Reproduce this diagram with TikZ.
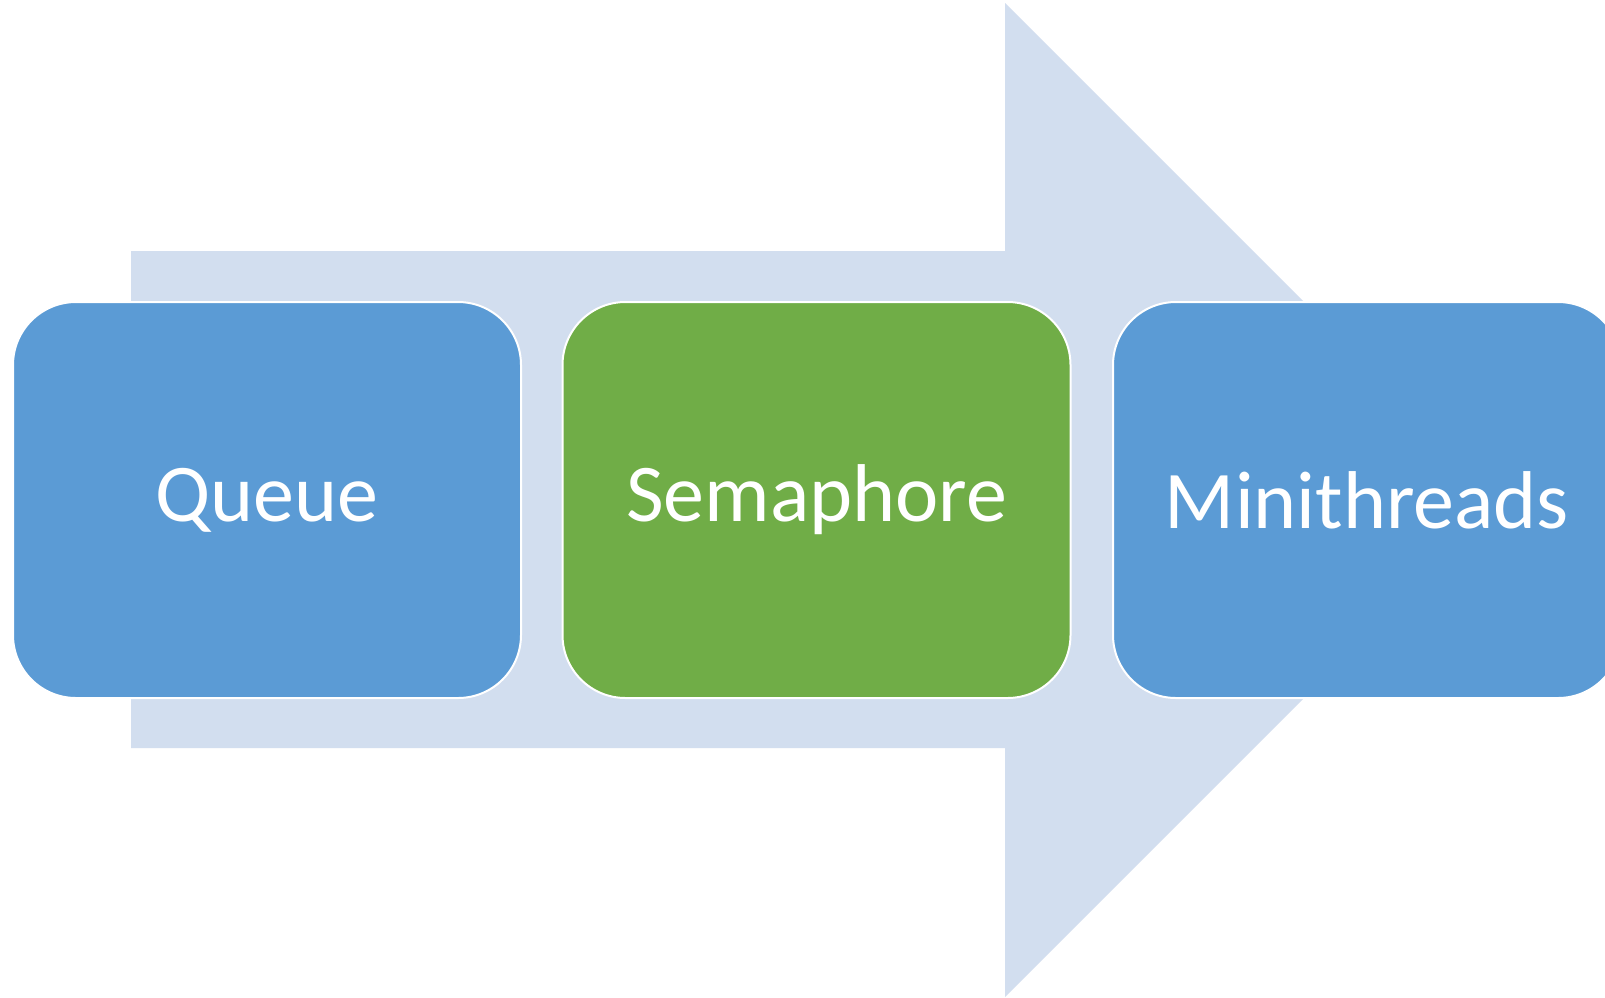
\documentclass[tikz,border=0pt]{standalone}
\usepackage{fontspec}
\setmainfont{Carlito}
\definecolor{shaftblue}{HTML}{D2DEEF}
\definecolor{stepblue}{HTML}{5B9BD5}
\definecolor{stepgreen}{HTML}{70AD47}
\tikzset{
  stagebox/.style={rectangle, rounded corners=63pt, draw=white, line width=2pt,
    minimum width=508pt, minimum height=396pt, inner sep=0pt,
    text=white, font=\fontsize{82}{98}\selectfont},
}
\begin{document}
\begin{tikzpicture}[x=1pt,y=-1pt]
  \clip (0,0) rectangle (1605,997);
  \fill[white] (0,0) rectangle (1605,997);
  % broad process arrow in the background
  \fill[shaftblue] (131,251) -- (1005,251) -- (1005,3) -- (1502,500)
    -- (1005,997) -- (1005,748) -- (131,748) -- cycle;
  % the three stages
  \node[stagebox, fill=stepblue]  (queue) at (267,500)   {Queue};
  \node[stagebox, fill=stepgreen] (sem)   at (816.5,500) {Semaphore};
  \node[stagebox, fill=stepblue]  (mini)  at (1367,500)  {Minithreads};
\end{tikzpicture}
\end{document}
